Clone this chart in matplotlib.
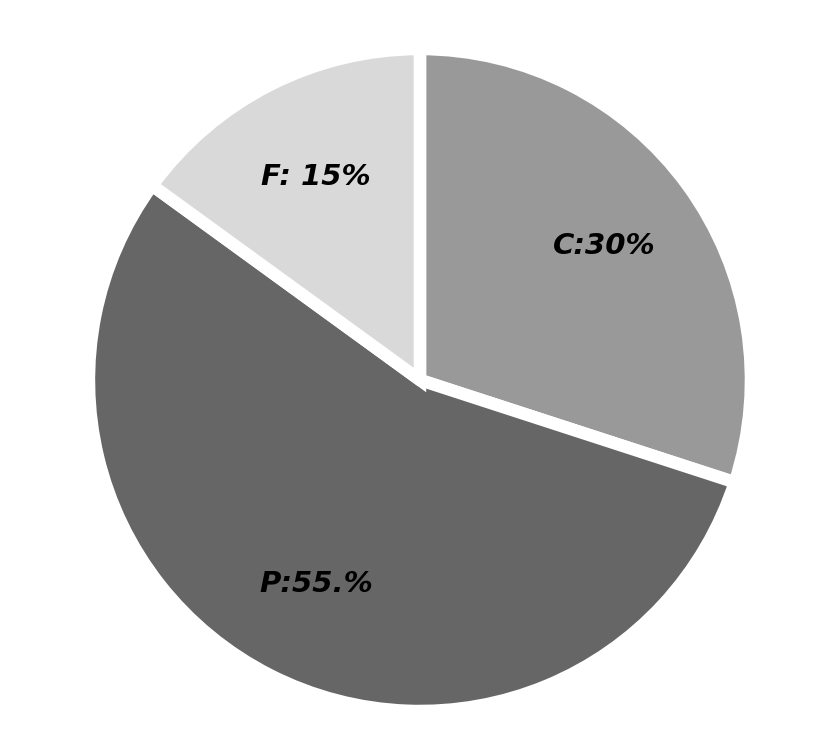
import matplotlib
matplotlib.use("Agg")
import matplotlib.pyplot as plt
import numpy as np

categories = ["C", "P", "F"]
values = [30, 55, 15]
label_texts = ["C:30%", "P:55.%", "F: 15%"]
colors = ["#999999", "#666666", "#d9d9d9"]

fig = plt.figure(figsize=(8.24, 7.46), dpi=100)
ax = fig.add_axes([0.0758, 0.0114, 0.8677, 0.9584])

wedges, texts = ax.pie(values, labels=label_texts, colors=colors,
                       startangle=90, counterclock=False,
                       labeldistance=0.69,
                       wedgeprops=dict(edgecolor="white", linewidth=9),
                       textprops=dict(fontsize=21, fontweight="bold",
                                      fontstyle="italic", color="black",
                                      family="DejaVu Sans"))
for t in texts:
    t.set_ha("center")
    t.set_va("center")

ax.set_xlim(-1.08, 1.08)
ax.set_ylim(-1.08, 1.08)
ax.set_aspect("auto")

fig.savefig("out.png", dpi=100, facecolor="white")
